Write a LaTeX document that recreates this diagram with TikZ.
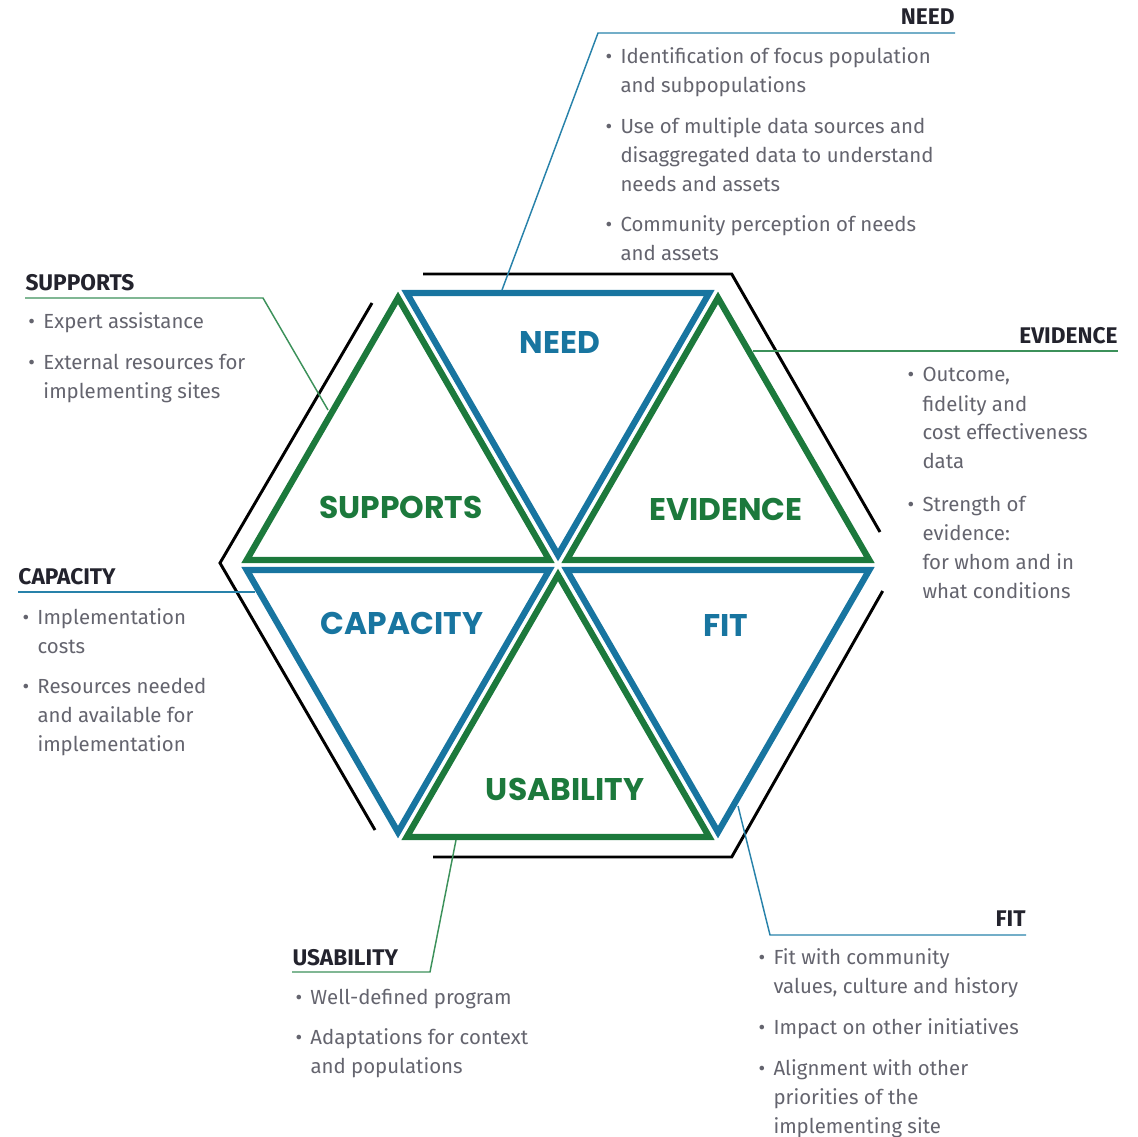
\documentclass[tikz,border=0pt]{standalone}
\usepackage{fontspec}
\setmainfont{Fira Sans}
\newfontfamily\labelfont{Poppins}

\definecolor{triblue}{RGB}{24,117,160}
\definecolor{trigreen}{RGB}{28,121,60}
\definecolor{leadblue}{RGB}{40,130,170}
\definecolor{leadgreen}{RGB}{60,145,90}
\definecolor{headgray}{RGB}{35,35,45}
\definecolor{bodygray}{RGB}{100,100,110}

\newcommand{\itembul}{\makebox[11.25pt][l]{\textbullet}}

\tikzset{every picture/.style={line width=0.75pt}}
\tikzset{
  bluetri/.style={draw=triblue, line width=4.7pt, line join=miter},
  greentri/.style={draw=trigreen, line width=4.7pt, line join=miter},
  hexline/.style={draw=black, line width=2.2pt},
  blueleader/.style={draw=leadblue, line width=1.1pt},
  greenleader/.style={draw=leadgreen, line width=1.1pt},
  headtext/.style={inner sep=0pt, text=headgray, font=\bfseries\fontsize{17}{20}\selectfont},
  listtext/.style={inner sep=0pt, text=bodygray, font=\fontsize{15.3}{21.75}\selectfont},
  bluelabel/.style={inner sep=0pt, text=triblue, font=\labelfont\bfseries\fontsize{23.5}{26}\selectfont},
  greenlabel/.style={inner sep=0pt, text=trigreen, font=\labelfont\bfseries\fontsize{23.5}{26}\selectfont}
}

\begin{document}
\begin{tikzpicture}[x=0.75pt,y=0.75pt,yscale=-1,xscale=1]
	\useasboundingbox (0,0) rectangle (1138,1137);

	%Shape: Hexagon outline (three open pieces)
	\draw [hexline] (423,274) -- (731.7,274) -- (880,532) ;
	\draw [hexline] (372,303) -- (220,563) -- (375,830) ;
	\draw [hexline] (882.7,591) -- (731.7,857) -- (433,857) ;

	%Shape: Triangle, need
	\draw [bluetri] (406.7,292.9) -- (709.3,292.9) -- (558,555) -- cycle ;
	%Shape: Triangle, supports
	\draw [greentri] (246.7,560) -- (549.3,560) -- (398,297.9) -- cycle ;
	%Shape: Triangle, evidence
	\draw [greentri] (566.7,560) -- (869.3,560) -- (718,297.9) -- cycle ;
	%Shape: Triangle, capacity
	\draw [bluetri] (246.7,570) -- (549.3,570) -- (398,832.1) -- cycle ;
	%Shape: Triangle, fit
	\draw [bluetri] (566.7,570) -- (869.3,570) -- (718,832.1) -- cycle ;
	%Shape: Triangle, usability
	\draw [greentri] (406.7,837.1) -- (709.3,837.1) -- (558,575) -- cycle ;

	% Text Node
	\node (needlbl) [bluelabel] at (560,343) {NEED};
	% Text Node
	\node (suplbl) [greenlabel] at (401,507) {SUPPORTS};
	% Text Node
	\node (evilbl) [greenlabel] at (726,509) {EVIDENCE};
	% Text Node
	\node (caplbl) [bluelabel] at (402,623) {CAPACITY};
	% Text Node
	\node (fitlbl) [bluelabel] at (726,625) {FIT};
	% Text Node
	\node (usalbl) [greenlabel] at (565,789) {USABILITY};

	% Text Node
	\node (needhead) [headtext, anchor=base east] at (955,25) {NEED};
	% Text Node
	\node (suphead) [headtext, anchor=base west] at (25,291) {SUPPORTS};
	% Text Node
	\node (evihead) [headtext, anchor=base east] at (1118,344) {EVIDENCE};
	% Text Node
	\node (caphead) [headtext, anchor=base west] at (18,584) {CAPACITY};
	% Text Node
	\node (usahead) [headtext, anchor=base west] at (292,965) {USABILITY};
	% Text Node
	\node (fithead) [headtext, anchor=base east] at (1026,926) {FIT};

	% Text Node
	\node (needlist) [listtext, anchor=base west] at (605,64) {\begin{tabular}[t]{@{}l@{}l@{}}
		\itembul & Identification of focus population\\
		& and subpopulations\\[8.5pt]
		\itembul & Use of multiple data sources and\\
		& disaggregated data to understand\\
		& needs and assets\\[8.5pt]
		\itembul & Community perception of needs\\
		& and assets
	\end{tabular}};
	% Text Node
	\node (suplist) [listtext, anchor=base west] at (28,329) {\begin{tabular}[t]{@{}l@{}l@{}}
		\itembul & Expert assistance\\[8.5pt]
		\itembul & External resources for\\
		& implementing sites
	\end{tabular}};
	% Text Node
	\node (evilist) [listtext, anchor=base west] at (907,382) {\begin{tabular}[t]{@{}l@{}l@{}}
		\itembul & Outcome,\\
		& fidelity and\\
		& cost effectiveness\\
		& data\\[10pt]
		\itembul & Strength of\\
		& evidence:\\
		& for whom and in\\
		& what conditions
	\end{tabular}};
	% Text Node
	\node (caplist) [listtext, anchor=base west] at (22,624) {\begin{tabular}[t]{@{}l@{}l@{}}
		\itembul & Implementation\\
		& costs\\[8.5pt]
		\itembul & Resources needed\\
		& and available for\\
		& implementation
	\end{tabular}};
	% Text Node
	\node (usalist) [listtext, anchor=base west] at (295,1004) {\begin{tabular}[t]{@{}l@{}l@{}}
		\itembul & Well-defined program\\[8.5pt]
		\itembul & Adaptations for context\\
		& and populations
	\end{tabular}};
	% Text Node
	\node (fitlist) [listtext, anchor=base west] at (758,964) {\begin{tabular}[t]{@{}l@{}l@{}}
		\itembul & Fit with community\\
		& values, culture and history\\[9pt]
		\itembul & Impact on other initiatives\\[9pt]
		\itembul & Alignment with other\\
		& priorities of the\\
		& implementing site
	\end{tabular}};

	% Leader lines
	\coordinate (needfoot) at (502,290) ;
	\coordinate (needbend) at (598,33) ;
	\draw [blueleader] (needfoot) -- (needbend) -- (needbend -| needhead.east) ;
	\coordinate (supfoot) at (328,410) ;
	\coordinate (supbend) at (263,298) ;
	\draw [greenleader] (supfoot) -- (supbend) -- (supbend -| suphead.west) ;
	\coordinate (evifoot) at (753,351) ;
	\draw [greenleader] (evifoot) -- (evifoot -| evihead.east) ;
	\coordinate (capfoot) at (255,592) ;
	\draw [blueleader] (capfoot) -- (capfoot -| caphead.west) ;
	\coordinate (usafoot) at (456,840) ;
	\coordinate (usabend) at (430,972) ;
	\draw [greenleader] (usafoot) -- (usabend) -- (usabend -| usahead.west) ;
	\coordinate (fitfoot) at (738,806) ;
	\coordinate (fitbend) at (770,935) ;
	\draw [blueleader] (fitfoot) -- (fitbend) -- (fitbend -| fithead.east) ;

\end{tikzpicture}
\end{document}
